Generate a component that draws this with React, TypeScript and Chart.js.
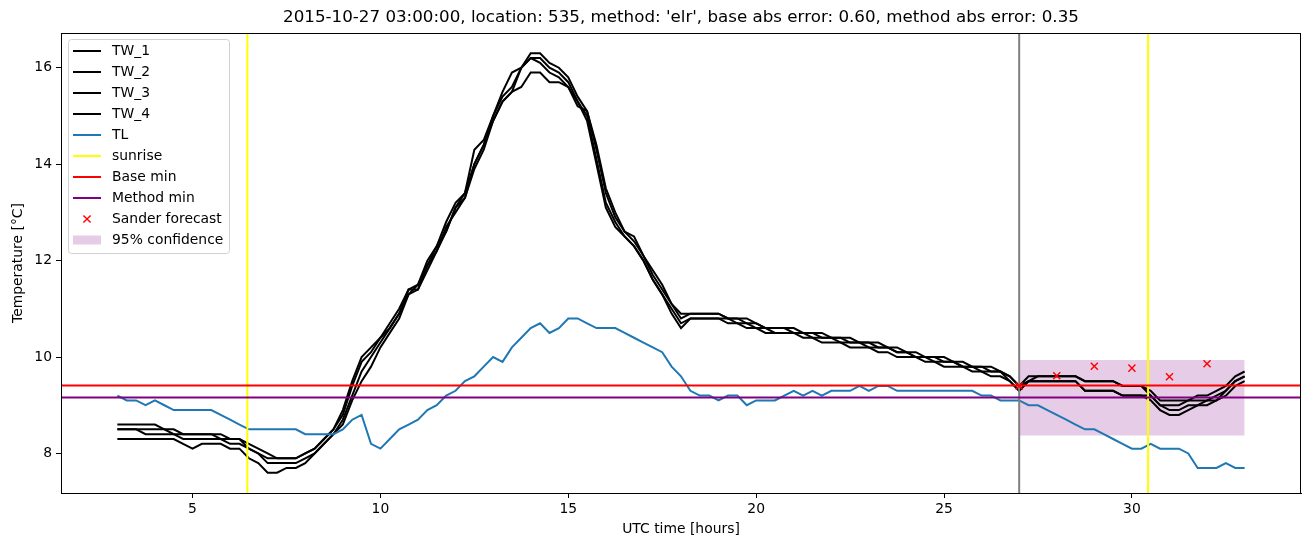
import React, { useEffect, useRef } from 'react';
import { Chart, registerables } from 'chart.js';

Chart.register(...registerables);

// ---- data (time grid: every 0.25 h from 3 to 33 UTC hours) ----
const T_START = 3;
const T_STEP = 0.25;

const TW_1 = [
  8.6, 8.6, 8.6, 8.6, 8.6, 8.5, 8.5, 8.4, 8.4, 8.4, 8.4, 8.3, 8.3, 8.3, 8.2, 8.1,
  8.0, 7.9, 7.9, 7.9, 8.0, 8.1, 8.3, 8.5, 8.9, 9.5, 10.0, 10.2, 10.4, 10.7, 11.0, 11.4,
  11.5, 12.0, 12.3, 12.8, 13.2, 13.4, 14.0, 14.4, 15.0, 15.4, 15.6, 16.0, 16.3, 16.3, 16.1, 16.0,
  15.8, 15.4, 15.1, 14.3, 13.4, 12.9, 12.6, 12.4, 12.1, 11.7, 11.4, 11.1, 10.8, 10.9, 10.9, 10.9,
  10.9, 10.8, 10.8, 10.7, 10.7, 10.6, 10.6, 10.6, 10.6, 10.5, 10.5, 10.5, 10.4, 10.4, 10.4, 10.3,
  10.3, 10.3, 10.2, 10.2, 10.1, 10.1, 10.0, 10.0, 10.0, 9.9, 9.9, 9.8, 9.8, 9.8, 9.7, 9.6,
  9.4, 9.6, 9.6, 9.6, 9.6, 9.6, 9.6, 9.5, 9.5, 9.5, 9.5, 9.4, 9.4, 9.4, 9.3, 9.1,
  9.1, 9.1, 9.1, 9.2, 9.2, 9.3, 9.4, 9.6, 9.7,
];
const TW_2 = [
  8.5, 8.5, 8.5, 8.5, 8.5, 8.5, 8.4, 8.4, 8.4, 8.4, 8.4, 8.4, 8.3, 8.3, 8.1, 8.0,
  7.9, 7.9, 7.9, 7.9, 8.0, 8.1, 8.3, 8.5, 8.8, 9.4, 9.9, 10.1, 10.4, 10.6, 10.9, 11.3,
  11.5, 11.9, 12.3, 12.6, 13.1, 13.4, 14.3, 14.5, 15.0, 15.5, 15.9, 16.0, 16.2, 16.2, 16.0, 15.9,
  15.7, 15.3, 15.0, 14.1, 13.2, 12.8, 12.5, 12.3, 12.0, 11.6, 11.3, 11.0, 10.7, 10.8, 10.8, 10.8,
  10.8, 10.8, 10.7, 10.7, 10.6, 10.6, 10.5, 10.5, 10.5, 10.5, 10.4, 10.4, 10.4, 10.3, 10.3, 10.3,
  10.2, 10.2, 10.2, 10.1, 10.1, 10.0, 10.0, 9.9, 9.9, 9.9, 9.8, 9.8, 9.7, 9.7, 9.7, 9.6,
  9.4, 9.5, 9.6, 9.6, 9.6, 9.6, 9.6, 9.5, 9.5, 9.5, 9.5, 9.4, 9.4, 9.4, 9.2, 9.0,
  9.0, 9.0, 9.1, 9.1, 9.1, 9.2, 9.3, 9.5, 9.6,
];
const TW_3 = [
  8.5, 8.5, 8.5, 8.4, 8.4, 8.4, 8.4, 8.3, 8.3, 8.3, 8.3, 8.3, 8.2, 8.2, 8.1, 8.0,
  7.8, 7.8, 7.8, 7.8, 7.9, 8.0, 8.2, 8.4, 8.7, 9.2, 9.7, 10.0, 10.3, 10.6, 10.9, 11.4,
  11.4, 11.9, 12.2, 12.7, 13.0, 13.3, 13.9, 14.3, 14.9, 15.3, 15.5, 16.0, 16.2, 16.1, 15.9, 15.8,
  15.6, 15.3, 14.9, 14.0, 13.1, 12.7, 12.5, 12.3, 12.0, 11.6, 11.3, 10.9, 10.6, 10.8, 10.8, 10.8,
  10.8, 10.7, 10.7, 10.6, 10.6, 10.5, 10.5, 10.5, 10.5, 10.4, 10.4, 10.3, 10.3, 10.3, 10.2, 10.2,
  10.2, 10.1, 10.1, 10.0, 10.0, 10.0, 9.9, 9.9, 9.8, 9.8, 9.8, 9.7, 9.7, 9.6, 9.6, 9.5,
  9.3, 9.5, 9.5, 9.5, 9.5, 9.5, 9.5, 9.3, 9.3, 9.3, 9.3, 9.2, 9.2, 9.2, 9.2, 9.0,
  8.9, 8.9, 9.0, 9.0, 9.1, 9.1, 9.3, 9.5, 9.6,
];
const TW_4 = [
  8.3, 8.3, 8.3, 8.3, 8.3, 8.3, 8.3, 8.2, 8.1, 8.2, 8.2, 8.2, 8.1, 8.1, 7.9, 7.8,
  7.6, 7.6, 7.7, 7.7, 7.8, 8.0, 8.2, 8.4, 8.6, 9.1, 9.5, 9.8, 10.2, 10.5, 10.8, 11.3,
  11.4, 11.8, 12.2, 12.6, 13.1, 13.3, 14.0, 14.4, 14.9, 15.3, 15.5, 15.6, 15.9, 15.9, 15.7, 15.7,
  15.6, 15.2, 15.1, 14.4, 13.5, 13.0, 12.6, 12.5, 12.1, 11.8, 11.5, 11.1, 10.9, 10.9, 10.9, 10.9,
  10.9, 10.8, 10.8, 10.8, 10.7, 10.6, 10.6, 10.6, 10.5, 10.5, 10.5, 10.4, 10.4, 10.4, 10.3, 10.3,
  10.3, 10.2, 10.2, 10.1, 10.1, 10.0, 10.0, 10.0, 9.9, 9.9, 9.8, 9.8, 9.8, 9.7, 9.7, 9.5,
  9.3, 9.5, 9.5, 9.5, 9.5, 9.5, 9.5, 9.3, 9.3, 9.3, 9.3, 9.2, 9.2, 9.2, 9.1, 8.9,
  8.8, 8.8, 8.9, 9.0, 9.0, 9.1, 9.2, 9.4, 9.5,
];
const TL = [
  9.2, 9.1, 9.1, 9.0, 9.1, 9.0, 8.9, 8.9, 8.9, 8.9, 8.9, 8.8, 8.7, 8.6, 8.5, 8.5,
  8.5, 8.5, 8.5, 8.5, 8.4, 8.4, 8.4, 8.4, 8.5, 8.7, 8.8, 8.2, 8.1, 8.3, 8.5, 8.6,
  8.7, 8.9, 9.0, 9.2, 9.3, 9.5, 9.6, 9.8, 10.0, 9.9, 10.2, 10.4, 10.6, 10.7, 10.5, 10.6,
  10.8, 10.8, 10.7, 10.6, 10.6, 10.6, 10.5, 10.4, 10.3, 10.2, 10.1, 9.8, 9.6, 9.3, 9.2, 9.2,
  9.1, 9.2, 9.2, 9.0, 9.1, 9.1, 9.1, 9.2, 9.3, 9.2, 9.3, 9.2, 9.3, 9.3, 9.3, 9.4,
  9.3, 9.4, 9.4, 9.3, 9.3, 9.3, 9.3, 9.3, 9.3, 9.3, 9.3, 9.3, 9.2, 9.2, 9.1, 9.1,
  9.1, 9.0, 9.0, 8.9, 8.8, 8.7, 8.6, 8.5, 8.5, 8.4, 8.3, 8.2, 8.1, 8.1, 8.2, 8.1,
  8.1, 8.1, 8.0, 7.7, 7.7, 7.7, 7.8, 7.7, 7.7,
];
const HOURS = TW_1.map((_, i) => T_START + i * T_STEP);

const SUNRISE = [6.46, 30.43];
const FORECAST_TIME = 27.0;
const BASE_MIN = 9.41;
const METHOD_MIN = 9.16;
const SANDER_X = [27, 28, 29, 30, 31, 32];
const SANDER_Y = [9.40, 9.61, 9.81, 9.77, 9.59, 9.86];
const CONF_X = [27, 33];
const CONF_LOW = 8.37;
const CONF_HIGH = 9.94;

const X_MIN = 1.5;
const X_MAX = 34.5;
const Y_MIN = 7.18;
const Y_MAX = 16.72;
const X_TICKS = [5, 10, 15, 20, 25, 30];
const Y_TICKS = [8, 10, 12, 14, 16];

const TITLE = "2015-10-27 03:00:00, location: 535, method: 'elr', base abs error: 0.60, method abs error: 0.35";
const X_LABEL = 'UTC time [hours]';
const Y_LABEL = 'Temperature [°C]';

const FONT = "'DejaVu Sans', sans-serif";
const TL_COLOR = '#1f77b4';
const CONF_COLOR = 'rgba(128,0,128,0.2)';
const LW = 2;

const LEGEND_ITEMS = [
  { label: 'TW_1', kind: 'line', color: '#000000' },
  { label: 'TW_2', kind: 'line', color: '#000000' },
  { label: 'TW_3', kind: 'line', color: '#000000' },
  { label: 'TW_4', kind: 'line', color: '#000000' },
  { label: 'TL', kind: 'line', color: TL_COLOR },
  { label: 'sunrise', kind: 'line', color: '#ffff00' },
  { label: 'Base min', kind: 'line', color: '#ff0000' },
  { label: 'Method min', kind: 'line', color: '#800080' },
  { label: 'Sander forecast', kind: 'x', color: '#ff0000' },
  { label: '95% confidence', kind: 'patch', color: CONF_COLOR },
];

const series = (ys: number[]) => HOURS.map((x, i) => ({ x, y: ys[i] }));

const decorPlugin = {
  id: 'decor',
  afterDraw(chart: any) {
    const { ctx, chartArea } = chart;
    const { left, right, top, bottom } = chartArea;
    ctx.save();
    // frame
    ctx.strokeStyle = '#000';
    ctx.lineWidth = 1;
    ctx.strokeRect(Math.round(left) + 0.5, Math.round(top) + 0.5, Math.round(right - left) - 1, Math.round(bottom - top));
    // title
    ctx.fillStyle = '#000';
    ctx.textAlign = 'center';
    ctx.textBaseline = 'middle';
    ctx.font = `16.7px ${FONT}`;
    ctx.fillText(TITLE, (left + right) / 2, 18);
    // axis labels
    ctx.font = `13.9px ${FONT}`;
    ctx.fillText(X_LABEL, (left + right) / 2, 529);
    ctx.save();
    ctx.translate(18, (top + bottom) / 2);
    ctx.rotate(-Math.PI / 2);
    ctx.fillText(Y_LABEL, 0, 0);
    ctx.restore();
    // legend
    const bx = 68.5, by = 39.5, bw = 161, bh = 214;
    ctx.beginPath();
    (ctx as any).roundRect(bx, by, bw, bh, 3);
    ctx.fillStyle = 'rgba(255,255,255,0.8)';
    ctx.fill();
    ctx.strokeStyle = '#d0d0d0';
    ctx.lineWidth = 1;
    ctx.stroke();
    ctx.textAlign = 'left';
    ctx.textBaseline = 'middle';
    LEGEND_ITEMS.forEach((it, i) => {
      const y = 51 + i * 21.0;
      if (it.kind === 'line') {
        ctx.strokeStyle = it.color;
        ctx.lineWidth = LW;
        ctx.beginPath();
        ctx.moveTo(73, y);
        ctx.lineTo(101, y);
        ctx.stroke();
      } else if (it.kind === 'x') {
        ctx.strokeStyle = it.color;
        ctx.lineWidth = 1.4;
        const s = 3.6;
        ctx.beginPath();
        ctx.moveTo(87 - s, y - s);
        ctx.lineTo(87 + s, y + s);
        ctx.moveTo(87 - s, y + s);
        ctx.lineTo(87 + s, y - s);
        ctx.stroke();
      } else {
        ctx.fillStyle = it.color;
        ctx.fillRect(73, y - 4.5, 28, 9);
      }
      ctx.fillStyle = '#000';
      ctx.fillText(it.label, 112, y + 0.5);
    });
    ctx.restore();
  },
};

export default function App() {
  const ref = useRef<HTMLCanvasElement | null>(null);
  useEffect(() => {
    document.body.style.margin = '0';
    const canvas = ref.current;
    if (!canvas) return;
    const lineDs = (label: string, data: any[], color: string, order: number, width = LW) => ({
      type: 'line' as const,
      label,
      data,
      borderColor: color,
      backgroundColor: color,
      borderWidth: width,
      pointRadius: 0,
      tension: 0,
      fill: false,
      order,
    });
    const chart = new Chart(canvas, {
      type: 'line',
      data: {
        datasets: [
          {
            type: 'line',
            label: 'conf_low',
            data: CONF_X.map((x) => ({ x, y: CONF_LOW })),
            borderWidth: 0,
            borderColor: 'rgba(0,0,0,0)',
            pointRadius: 0,
            fill: false,
            order: 20,
          },
          {
            type: 'line',
            label: '95% confidence',
            data: CONF_X.map((x) => ({ x, y: CONF_HIGH })),
            borderWidth: 0,
            borderColor: 'rgba(0,0,0,0)',
            backgroundColor: CONF_COLOR,
            pointRadius: 0,
            fill: '-1',
            order: 19,
          },
          lineDs('TW_1', series(TW_1), '#000000', 12),
          lineDs('TW_2', series(TW_2), '#000000', 12),
          lineDs('TW_3', series(TW_3), '#000000', 12),
          lineDs('TW_4', series(TW_4), '#000000', 12),
          lineDs('TL', series(TL), TL_COLOR, 11),
          lineDs('forecast time', [{ x: FORECAST_TIME, y: Y_MIN }, { x: FORECAST_TIME, y: Y_MAX }], '#808080', 10),
          lineDs('sunrise', [{ x: SUNRISE[0], y: Y_MIN }, { x: SUNRISE[0], y: Y_MAX }], '#ffff00', 9),
          lineDs('sunrise2', [{ x: SUNRISE[1], y: Y_MIN }, { x: SUNRISE[1], y: Y_MAX }], '#ffff00', 9),
          lineDs('Base min', [{ x: X_MIN, y: BASE_MIN }, { x: X_MAX, y: BASE_MIN }], '#ff0000', 8),
          lineDs('Method min', [{ x: X_MIN, y: METHOD_MIN }, { x: X_MAX, y: METHOD_MIN }], '#800080', 7),
          {
            type: 'scatter',
            label: 'Sander forecast',
            data: SANDER_X.map((x, i) => ({ x, y: SANDER_Y[i] })),
            pointStyle: 'crossRot',
            pointRadius: 5,
            borderColor: '#ff0000',
            backgroundColor: '#ff0000',
            borderWidth: 1.4,
            showLine: false,
            order: 1,
          } as any,
        ],
      },
      options: {
        responsive: false,
        animation: false,
        devicePixelRatio: 1,
        layout: { padding: { left: 0, right: 10, top: 33, bottom: 0 } },
        plugins: {
          legend: { display: false },
          title: { display: false },
          tooltip: { enabled: false },
        },
        scales: {
          x: {
            type: 'linear',
            min: X_MIN,
            max: X_MAX,
            afterBuildTicks: (s: any) => {
              s.ticks = X_TICKS.map((v) => ({ value: v }));
            },
            afterFit: (s: any) => {
              s.height = 54;
            },
            grid: { drawOnChartArea: false, drawTicks: true, tickLength: 5, color: '#000', lineWidth: 1 },
            border: { display: true, color: '#000', width: 1 },
            ticks: { color: '#000', font: { family: FONT, size: 13.9 }, padding: 3, maxRotation: 0, autoSkip: false },
          },
          y: {
            type: 'linear',
            min: Y_MIN,
            max: Y_MAX,
            afterBuildTicks: (s: any) => {
              s.ticks = Y_TICKS.map((v) => ({ value: v }));
            },
            afterFit: (s: any) => {
              s.width = 61;
            },
            grid: { drawOnChartArea: false, drawTicks: true, tickLength: 5, color: '#000', lineWidth: 1 },
            border: { display: true, color: '#000', width: 1 },
            ticks: { color: '#000', font: { family: FONT, size: 13.9 }, padding: 4, autoSkip: false },
          },
        },
      },
      plugins: [decorPlugin],
    } as any);
    return () => chart.destroy();
  }, []);
  return (
    <div style={{ width: 1311, height: 547 }}>
      <canvas ref={ref} width={1311} height={547} style={{ display: 'block' }} />
    </div>
  );
}
